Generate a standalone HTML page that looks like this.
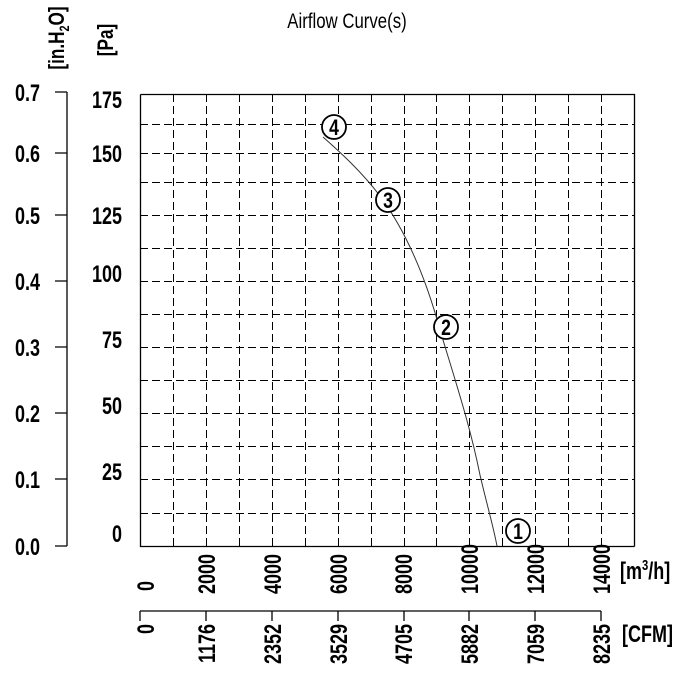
<!DOCTYPE html>
<html><head><meta charset="utf-8"><style>
body{margin:0;background:#fff}
svg{display:block}
text{font-family:"Liberation Sans",sans-serif;fill:#000;font-weight:bold}
</style></head><body>
<svg width="689" height="679" viewBox="0 0 689 679" xmlns="http://www.w3.org/2000/svg">
<defs>
<style>.g{stroke:#000;stroke-width:1;stroke-dasharray:8,4;fill:none;shape-rendering:crispEdges}</style>
</defs>
<g transform="translate(347,28) scale(0.8,1)"><text text-anchor="middle" font-size="21" font-weight="normal" style="font-weight:normal">Airflow Curve(s)</text></g>
<g transform="translate(64,38) rotate(-90) scale(0.78,1)"><text text-anchor="middle" font-size="22">[in.H<tspan font-size="14" dy="5">2</tspan><tspan dy="-5">O]</tspan></text></g>
<g transform="translate(113,40) rotate(-90) scale(0.78,1)"><text text-anchor="middle" font-size="22">[Pa]</text></g>

<g class="g">
<path d="M173.5,94V546M206.5,94V546M239.5,94V546M272.5,94V546M305.5,94V546M338.5,94V546M371.5,94V546M404.5,94V546M436.5,94V546M469.5,94V546M502.5,94V546M535.5,94V546M568.5,94V546M601.5,94V546"/>
<path d="M140,124.5H634M140,153.5H634M140,182.5H634M140,215.5H634M140,248.5H634M140,281.5H634M140,314.5H634M140,347.5H634M140,380.5H634M140,413.5H634M140,446.5H634M140,479.5H634M140,513.5H634"/>
</g>
<path d="M140.5,94.5H634.5V546.5M140.5,94.5V546.5H634.5" stroke="#000" stroke-width="1.3" fill="none"/>

<path d="M67,92V546M55,92H67M55,153H67M55,215H67M55,281H67M55,347H67M55,413H67M55,479H67M55,546H67" stroke="#000" stroke-width="1.3" fill="none"/>
<g font-size="24">
<g transform="translate(40,101) scale(0.75,1)"><text text-anchor="end">0.7</text></g>
<g transform="translate(40,162) scale(0.75,1)"><text text-anchor="end">0.6</text></g>
<g transform="translate(40,224) scale(0.75,1)"><text text-anchor="end">0.5</text></g>
<g transform="translate(40,290) scale(0.75,1)"><text text-anchor="end">0.4</text></g>
<g transform="translate(40,356) scale(0.75,1)"><text text-anchor="end">0.3</text></g>
<g transform="translate(40,422) scale(0.75,1)"><text text-anchor="end">0.2</text></g>
<g transform="translate(40,488) scale(0.75,1)"><text text-anchor="end">0.1</text></g>
<g transform="translate(40,555) scale(0.75,1)"><text text-anchor="end">0.0</text></g>
<g transform="translate(122,108) scale(0.75,1)"><text text-anchor="end">175</text></g>
<g transform="translate(122,162) scale(0.75,1)"><text text-anchor="end">150</text></g>
<g transform="translate(122,224) scale(0.75,1)"><text text-anchor="end">125</text></g>
<g transform="translate(122,282) scale(0.75,1)"><text text-anchor="end">100</text></g>
<g transform="translate(122,348) scale(0.75,1)"><text text-anchor="end">75</text></g>
<g transform="translate(122,414) scale(0.75,1)"><text text-anchor="end">50</text></g>
<g transform="translate(122,480) scale(0.75,1)"><text text-anchor="end">25</text></g>
<g transform="translate(122,542) scale(0.75,1)"><text text-anchor="end">0</text></g>
</g>

<g font-size="24">
<g transform="translate(154,591) rotate(-90) scale(0.75,1)"><text>0</text></g>
<g transform="translate(215,594) rotate(-90) scale(0.75,1)"><text>2000</text></g>
<g transform="translate(281,594) rotate(-90) scale(0.75,1)"><text>4000</text></g>
<g transform="translate(347,594) rotate(-90) scale(0.75,1)"><text>6000</text></g>
<g transform="translate(412,594) rotate(-90) scale(0.75,1)"><text>8000</text></g>
<g transform="translate(478,594) rotate(-90) scale(0.75,1)"><text>10000</text></g>
<g transform="translate(544,594) rotate(-90) scale(0.75,1)"><text>12000</text></g>
<g transform="translate(610,594) rotate(-90) scale(0.75,1)"><text>14000</text></g>
<g transform="translate(620,579) scale(0.75,1)"><text>[m<tspan font-size="15" dy="-9">3</tspan><tspan dy="9">/h]</tspan></text></g>
</g>

<path d="M140,611H601M140,611V621M206,611V621M272,611V621M338,611V621M404,611V621M469,611V621M535,611V621M601,611V621" stroke="#000" stroke-width="1.3" fill="none"/>
<g font-size="24">
<g transform="translate(154,624) rotate(-90) scale(0.75,1)"><text text-anchor="end">0</text></g>
<g transform="translate(215,624) rotate(-90) scale(0.75,1)"><text text-anchor="end">1176</text></g>
<g transform="translate(281,624) rotate(-90) scale(0.75,1)"><text text-anchor="end">2352</text></g>
<g transform="translate(347,624) rotate(-90) scale(0.75,1)"><text text-anchor="end">3529</text></g>
<g transform="translate(412,624) rotate(-90) scale(0.75,1)"><text text-anchor="end">4705</text></g>
<g transform="translate(478,624) rotate(-90) scale(0.75,1)"><text text-anchor="end">5882</text></g>
<g transform="translate(544,624) rotate(-90) scale(0.75,1)"><text text-anchor="end">7059</text></g>
<g transform="translate(610,624) rotate(-90) scale(0.75,1)"><text text-anchor="end">8235</text></g>
<g transform="translate(622,642) scale(0.75,1)"><text>[CFM]</text></g>
</g>

<path d="M323,137 C340,152 362,172 380,196 C405,230 425,275 440,330 C455,380 470,425 480,475 C487,505 493,525 497,546" stroke="#333" stroke-width="1" fill="none"/>
<g stroke="#000" stroke-width="1.8" fill="#fff">
<circle cx="334" cy="127" r="12"/>
<circle cx="388" cy="200" r="12"/>
<circle cx="446" cy="327" r="12"/>
<circle cx="518" cy="531" r="12"/>
</g>
<g font-size="22">
<g transform="translate(334,135) scale(0.8,1)"><text text-anchor="middle">4</text></g>
<g transform="translate(388,208) scale(0.8,1)"><text text-anchor="middle">3</text></g>
<g transform="translate(446,335) scale(0.8,1)"><text text-anchor="middle">2</text></g>
<g transform="translate(518,539) scale(0.8,1)"><text text-anchor="middle">1</text></g>
</g>
</svg>
</body></html>
